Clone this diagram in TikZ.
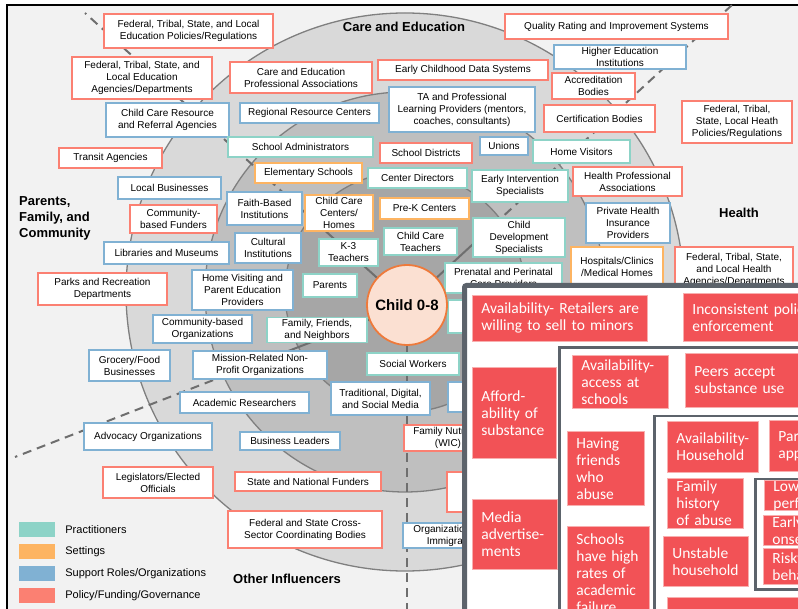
\documentclass[tikz,border=0pt]{standalone}
\usepackage{fontspec}
\setmainfont{Liberation Sans}
\newfontfamily\ovfont{Carlito}
\usepackage{tikz}
\usetikzlibrary{calc}
\usetikzlibrary{positioning}

\definecolor{pracC}{HTML}{8DD3C7}
\definecolor{settC}{HTML}{FDB462}
\definecolor{suppC}{HTML}{80B1D3}
\definecolor{poliC}{HTML}{FB8072}
\definecolor{panelC}{HTML}{F2F2F2}
\definecolor{ringA}{HTML}{D9D9D9}
\definecolor{ringB}{HTML}{BFBFBF}
\definecolor{ringC}{HTML}{A6A6A6}
\definecolor{ringLine}{HTML}{7F7F7F}
\definecolor{divLine}{HTML}{6E6E6E}
\definecolor{childFill}{HTML}{FBE0D2}
\definecolor{childLine}{HTML}{EE7A3B}
\definecolor{riskRed}{HTML}{F25256}
\definecolor{riskEdge}{HTML}{F8AFAF}
\definecolor{frameC}{HTML}{5C636B}

\hyphenpenalty=10000
\exhyphenpenalty=10000

\tikzset{
  box/.style={draw, line width=1.6pt, fill=white, align=center, inner sep=1pt, font=\fontsize{10}{12}\selectfont},
  prac/.style={box, draw=pracC},
  sett/.style={box, draw=settC},
  supp/.style={box, draw=suppC},
  poli/.style={box, draw=poliC},
  sz/.style 2 args={minimum width=#1, minimum height=#2},
  secTitle/.style={font=\fontsize{13}{16}\selectfont\bfseries},
  spoke/.style={divLine, line width=2pt},
  divider/.style={divLine, line width=2pt, dash pattern=on 9pt off 6pt},
  risk/.style 2 args={fill=riskRed, draw=riskEdge, line width=0.8pt, text=white, anchor=north west,
    text width=#1, minimum height=#2, inner xsep=9pt, inner ysep=0pt, align=left,
    font=\ovfont\fontsize{15.5}{17}\selectfont},
  riskFrame/.style={draw=frameC, line width=2.5pt},
}

\begin{document}
\begin{tikzpicture}[x=1pt, y=-1pt]
\useasboundingbox (0,0) rectangle (798,609);
\fill[white] (0,0) rectangle (798,609);
\fill[panelC] (7,5) rectangle (798,609);
\draw[black, line width=2.2pt] (7,609) -- (7,5) -- (798,5);

% rings
\coordinate (ringO) at (405,292);
\filldraw[fill=ringA, draw=ringLine, line width=1.3pt] (ringO) circle (279pt);
\filldraw[fill=ringB, draw=ringLine, line width=1.3pt] (ringO) circle (200pt);
\filldraw[fill=ringC, draw=ringLine, line width=1.3pt] (ringO) circle (120pt);

% sector lines
\coordinate (c0) at (407,305);
\coordinate (ulEnd) at (85,13);
\coordinate (urEnd) at (732,5);
\coordinate (llEnd) at (15,457);
\coordinate (dnEnd) at (407,612);
\foreach \e in {ulEnd, urEnd, llEnd, dnEnd}
{
\draw[spoke] (c0) -- ($(c0)!118pt!(\e)$);
\draw[divider] ($(c0)!118pt!(\e)$) -- (\e);
}

\node[secTitle] (tCare) at (404,27) {Care and Education};
\node[secTitle] (tHealth) at (739,213) {Health};
\node[secTitle, align=left, anchor=west, inner sep=0] (tParents) at (19,218) {Parents,\\Family, and\\Community};
\node[secTitle] (tOther) at (287,579) {Other Influencers};

\node[poli, sz={169}{34}] (fedEduPol) at (188.5,31) {Federal, Tribal, State, and Local\\Education Policies/Regulations};
\node[poli, sz={140}{42}] (fedEduAg) at (142,78) {Federal, Tribal, State, and\\Local Education\\Agencies/Departments};
\node[poli, sz={142}{31}] (ceProf) at (301,77.5) {Care and Education\\Professional Associations};
\node[supp, sz={123}{34}] (ccrr) at (167.5,120) {Child Care Resource\\and Referral Agencies};
\node[supp, sz={139}{20}] (regRes) at (309.5,113) {Regional Resource Centers};
\node[poli, sz={103}{20}] (transit) at (110.5,158) {Transit Agencies};
\node[prac, sz={145}{20}] (schAdmin) at (300.5,147) {School Administrators};
\node[supp, sz={103}{22}] (localBus) at (169.5,188) {Local Businesses};
\node[sett, sz={107}{20}] (elemSch) at (308.5,173) {Elementary Schools};
\node[poli, sz={170}{20}] (ecData) at (463,70) {Early Childhood Data Systems};
\node[supp, sz={146}{45}] (taProf) at (462,109.5) {TA and Professional\\Learning Providers (mentors,\\coaches, consultants)};
\node[poli, sz={92}{20}] (schDist) at (426,153) {School Districts};
\node[supp, sz={48}{18}] (unions) at (504,146) {Unions};
\node[prac, sz={99}{20}] (centerDir) at (417.5,178) {Center Directors};
\node[prac, sz={96}{32}] (earlyInt) at (520,186) {Early Intervention\\Specialists};
\node[poli, sz={223}{25}] (qris) at (616.5,26.5) {Quality Rating and Improvement Systems};
\node[supp, sz={132}{24}] (higherEd) at (620,57) {Higher Education\\Institutions};
\node[poli, sz={83}{26}] (accred) at (593.5,86) {Accreditation\\Bodies};
\node[poli, sz={111}{27}] (certif) at (599.5,118.5) {Certification Bodies};
\node[poli, sz={110}{42}] (fedHealthPol) at (737,122) {Federal, Tribal,\\State, Local Heath\\Policies/Regulations};
\node[prac, sz={97}{23}] (homeVis) at (581.5,151.5) {Home Visitors};
\node[poli, sz={109}{29}] (healthProf) at (627.5,181.5) {Health Professional\\Associations};
\node[supp, sz={84}{40}] (privIns) at (628,223) {Private Health\\Insurance\\Providers};
\node[sett, sz={92}{39}] (hospitals) at (617,266.5) {Hospitals/Clinics\\/Medical Homes};
\node[poli, sz={118}{46}] (fedHealthAg) at (734,270) {Federal, Tribal, State,\\and Local Health\\Agencies/Departments};
\node[prac, sz={92}{39}] (childDev) at (519,237.5) {Child\\Development\\Specialists};
\node[prac, sz={117}{30}] (prenatal) at (503.5,278) {Prenatal and Perinatal\\Care Providers};
\node[sett, sz={89}{21}] (preK) at (424.5,208.5) {Pre-K Centers};
\node[prac, sz={73}{27}] (ccTeach) at (420.5,241.5) {Child Care\\Teachers};
\node[supp, sz={75}{33}] (faith) at (264.5,208.5) {Faith-Based\\Institutions};
\node[sett, sz={68}{36}] (ccCenters) at (339,213) {Child Care\\Centers/\\Homes};
\node[supp, sz={66}{30}] (cultural) at (268,248) {Cultural\\Institutions};
\node[prac, sz={59}{27}] (k3) at (348.5,252.5) {K-3\\Teachers};
\node[supp, sz={101}{40}] (homeVisPar) at (242.5,290) {Home Visiting and\\Parent Education\\Providers};
\node[prac, sz={54}{23}] (parents) at (330,285.5) {Parents};
\node[prac, sz={82}{33}] (hiddenPrac) at (489,316.5) {};
\node[supp, sz={99}{28}] (commOrg) at (202.5,329) {Community-based\\Organizations};
\node[prac, sz={100}{25}] (famFriends) at (317,330) {Family, Friends,\\and Neighbors};
\node[supp, sz={81}{31}] (grocery) at (129.5,365.5) {Grocery/Food\\Businesses};
\node[supp, sz={134}{28}] (mission) at (260,365) {Mission-Related Non-\\Profit Organizations};
\node[prac, sz={92}{22}] (socialW) at (413,364) {Social Workers};
\node[supp, sz={129}{21}] (academic) at (244.5,402.5) {Academic Researchers};
\node[supp, sz={99}{33}] (tradMedia) at (380.5,398.5) {Traditional, Digital,\\and Social Media};
\node[supp, sz={72}{30}] (hiddenSupp) at (484,397) {};
\node[poli, sz={88}{26}] (famNutr) at (448,438) {Family Nutrition\\(WIC)};
\node[poli, sz={73}{40}] (hiddenPoli) at (483.5,492) {};
\node[supp, sz={97}{25}] (orgImm) at (451.5,535.5) {Organizations for\\Immigrants};
\node[supp, sz={128}{27}] (advocacy) at (148,436.5) {Advocacy Organizations};
\node[supp, sz={100}{18}] (busLeaders) at (290,441) {Business Leaders};
\node[poli, sz={110}{31}] (legislators) at (158,482.5) {Legislators/Elected\\Officials};
\node[poli, sz={146}{19}] (stateFund) at (308,481.5) {State and National Funders};
\node[poli, sz={154}{37}] (crossSector) at (305,529.5) {Federal and State Cross-\\Sector Coordinating Bodies};
\node[poli, sz={87}{28}] (commFund) at (173.5,219) {Community-\\based Funders};
\node[supp, sz={125}{22}] (libraries) at (166.5,253) {Libraries and Museums};
\node[poli, sz={129}{32}] (parks) at (102.5,289) {Parks and Recreation\\Departments};

\node[circle, draw=childLine, fill=childFill, line width=1.8pt, minimum size=80, inner sep=0,
  font=\fontsize{15}{18}\selectfont\bfseries] (child) at (c0) {Child 0-8};

% legend
\foreach \c/\t [count=\i] in {pracC/Practitioners, settC/Settings, suppC/{Support Roles/Organizations}, poliC/{Policy/Funding/Governance}}
{
\node[fill=\c, minimum width=36, minimum height=15, inner sep=0] (key\i) at (37,507.5+22*\i) {};
\node[right=10pt of key\i, inner sep=0, font=\fontsize{11}{13}\selectfont] (keyT\i) {\t};
}

% overlay
\begin{scope}
\clip (0,0) rectangle (798,609);
\draw[frameC, line width=5pt, fill=white, rounded corners=2pt] (464.5,285.5) rectangle (830,640);
\draw[riskFrame] (559.5,347.5) rectangle (830,640);
\draw[riskFrame] (654.5,416) rectangle (830,640);
\draw[riskFrame] (755.5,479) rectangle (830,589.5);

\node[risk={157}{46}] (rRetail) at (472,295) {Availability-~Retailers~are\\willing~to~sell~to~minors};
\node[risk={200}{48}] (rPolicy) at (683,293) {Inconsistent~policy\\enforcement};
\node[risk={66}{91}] (rAfford) at (472,367) {Afford-\\ability~of\\substance};
\node[risk={67}{70}] (rMedia) at (472,499) {Media\\advertise-\\ments};
\node[risk={78}{53}] (rSchools) at (572,355) {Availability-\\access~at\\schools};
\node[risk={200}{54}] (rPeers) at (685,353) {Peers~accept\\substance~use};
\node[risk={59}{74}] (rFriends) at (567,431) {Having\\friends\\who\\abuse};
\node[risk={64}{93}] (rFailure) at (567,526) {Schools\\have~high\\rates~of\\academic\\failure};
\node[risk={73}{51}] (rHouse) at (667,421) {Availability-\\Household};
\node[risk={100}{51}] (rParent) at (769,420) {Parental\\approval};
\node[risk={58}{50}] (rHistory) at (667,478) {Family\\history\\of~abuse};
\node[risk={100}{30}] (rLow) at (764,480) {Low~academic\\performance};
\node[risk={100}{30}] (rEarly) at (763,515) {Early\\onset};
\node[risk={100}{36}] (rRisky) at (763,548) {Risky\\behavior};
\node[risk={67}{50}] (rUnstable) at (663,536) {Unstable\\household};
\node[risk={200}{40}] (rBottom) at (667,597) {};
\end{scope}
\end{tikzpicture}
\end{document}
